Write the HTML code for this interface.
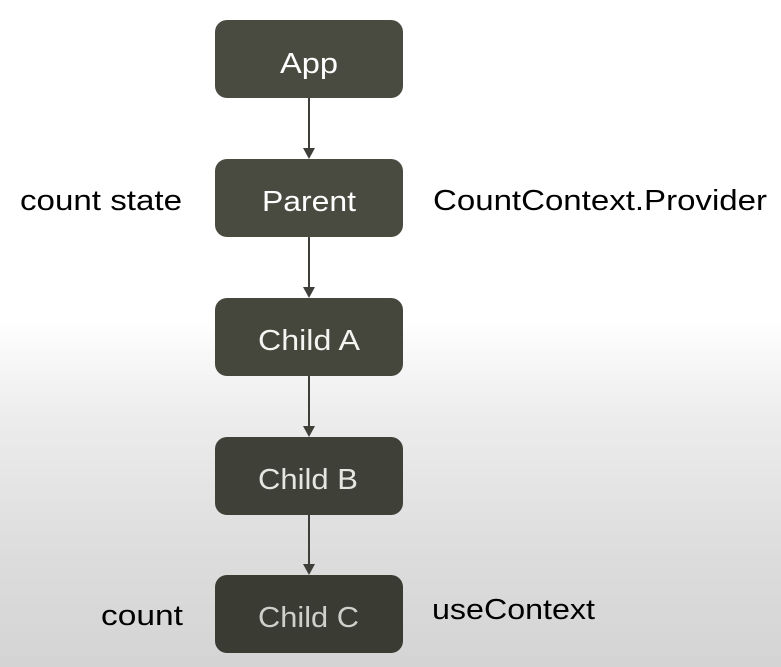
<!DOCTYPE html>
<html><head><style>
html,body{margin:0;padding:0;}
body{width:781px;height:667px;overflow:hidden;background:linear-gradient(to bottom,#fff 0px,#fff 320px,#ececec 420px,#dcdcdc 560px,#d4d4d4 667px);}
svg{display:block;}
text{font-family:"Liberation Sans",sans-serif;font-size:29px;}
</style></head><body>
<svg width="781" height="667" viewBox="0 0 781 667">
<g fill="#4a4b40">
<rect x="215" y="20" width="188" height="78" rx="12"/>
<rect x="215" y="159" width="188" height="78" rx="12"/>
<rect x="215" y="298" width="188" height="78" rx="12" fill="#45463c"/>
<rect x="215" y="437" width="188" height="78" rx="12" fill="#3f4037"/>
<rect x="215" y="575" width="188" height="78" rx="12" fill="#3a3b33"/>
</g>
<g stroke="#3f3f3a" stroke-width="2">
<line x1="309" y1="98" x2="309" y2="150"/>
<line x1="309" y1="237" x2="309" y2="289"/>
<line x1="309" y1="376" x2="309" y2="428"/>
<line x1="309" y1="515" x2="309" y2="566"/>
</g>
<g fill="#3f3f3a">
<polygon points="303,148 315,148 309,159"/>
<polygon points="303,287 315,287 309,298"/>
<polygon points="303,426 315,426 309,437"/>
<polygon points="303,564 315,564 309,575"/>
</g>
<text x="280" y="73" textLength="58" lengthAdjust="spacingAndGlyphs" fill="#fff">App</text>
<text x="262" y="211" textLength="94" lengthAdjust="spacingAndGlyphs" fill="#fff">Parent</text>
<text x="258" y="350" textLength="102" lengthAdjust="spacingAndGlyphs" fill="#f4f4f0">Child A</text>
<text x="258" y="489" textLength="100" lengthAdjust="spacingAndGlyphs" fill="#e6e6e0">Child B</text>
<text x="258" y="627" textLength="101" lengthAdjust="spacingAndGlyphs" fill="#d0d0ca">Child C</text>
<text x="20" y="210" textLength="162" lengthAdjust="spacingAndGlyphs" fill="#000">count state</text>
<text x="433" y="210" textLength="334" lengthAdjust="spacingAndGlyphs" fill="#000">CountContext.Provider</text>
<text x="101" y="625" textLength="82" lengthAdjust="spacingAndGlyphs" fill="#000">count</text>
<text x="432" y="619" textLength="163" lengthAdjust="spacingAndGlyphs" fill="#000">useContext</text>
</svg>
</body></html>
